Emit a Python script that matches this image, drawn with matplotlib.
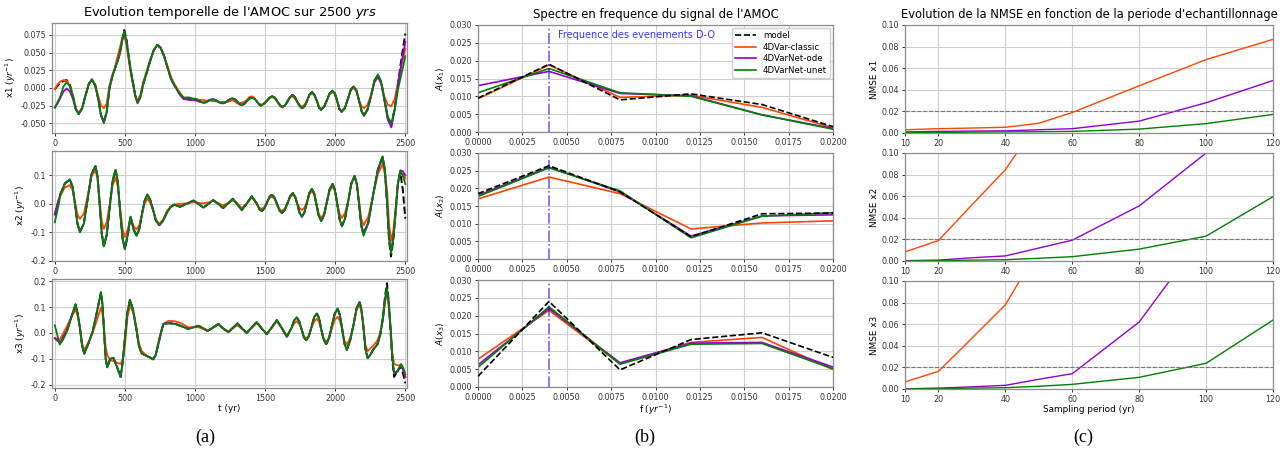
import matplotlib
matplotlib.use("Agg")
import matplotlib.pyplot as plt
from matplotlib.ticker import FormatStrFormatter

# ---------------- data: time series (panel a) ----------------
t1 = [0, 20, 40, 62, 85, 108, 130, 150, 170, 195,
      220, 243, 265, 288, 310, 330, 350, 370, 390, 410,
      430, 448, 465, 480, 495, 512, 530, 545, 560, 575,
      590, 610, 630, 655, 680, 705, 730, 755, 780, 805,
      830, 855, 880, 900, 920, 960, 1010, 1035, 1060, 1075,
      1090, 1108, 1125, 1142, 1160, 1178, 1195, 1212, 1230, 1248,
      1265, 1282, 1300, 1315, 1330, 1350, 1370, 1388, 1405, 1422,
      1440, 1455, 1470, 1490, 1510, 1530, 1550, 1570, 1590, 1608,
      1625, 1642, 1660, 1678, 1695, 1712, 1730, 1748, 1765, 1782,
      1800, 1818, 1835, 1852, 1870, 1885, 1900, 1920, 1940, 1960,
      1980, 1998, 2015, 2030, 2045, 2068, 2090, 2110, 2130, 2150,
      2170, 2188, 2205, 2230, 2255, 2280, 2305, 2328, 2350, 2375,
      2400, 2425, 2450, 2475, 2500]
x1_model = [-0.002, 0.003, 0.007, 0.010, 0.011, 0.004, -0.012, -0.030, -0.037, -0.029,
            -0.010, 0.006, 0.012, 0.004, -0.016, -0.039, -0.048, -0.034, 0.000, 0.016,
            0.028, 0.038, 0.050, 0.068, 0.082, 0.068, 0.040, 0.021, 0.005, -0.012,
            -0.020, -0.013, 0.005, 0.021, 0.038, 0.053, 0.061, 0.057, 0.045, 0.028,
            0.012, 0.003, -0.005, -0.010, -0.014, -0.014, -0.016, -0.019, -0.021, -0.0205,
            -0.019, -0.017, -0.016, -0.017, -0.019, -0.021, -0.022, -0.021, -0.019, -0.016,
            -0.015, -0.016, -0.019, -0.023, -0.024, -0.023, -0.019, -0.015, -0.014, -0.015,
            -0.019, -0.023, -0.025, -0.023, -0.019, -0.014, -0.012, -0.014, -0.020, -0.025,
            -0.027, -0.025, -0.019, -0.013, -0.010, -0.013, -0.020, -0.026, -0.029, -0.026,
            -0.018, -0.009, -0.006, -0.010, -0.019, -0.028, -0.031, -0.027, -0.018, -0.008,
            -0.004, -0.008, -0.019, -0.030, -0.034, -0.029, -0.016, -0.003, 0.002, -0.003,
            -0.018, -0.033, -0.039, -0.031, -0.012, 0.010, 0.018, 0.008, -0.015, -0.043,
            -0.054, -0.028, 0.010, 0.045, 0.077]
x1_classic = [-0.002, 0.005, 0.009, 0.011, 0.010, 0.002, -0.012, -0.029, -0.036, -0.028,
              -0.010, 0.006, 0.012, 0.005, -0.012, -0.025, -0.029, -0.022, 0.003, 0.018,
              0.030, 0.045, 0.058, 0.070, 0.076, 0.060, 0.035, 0.017, 0.002, -0.012,
              -0.018, -0.010, 0.008, 0.024, 0.040, 0.053, 0.060, 0.056, 0.044, 0.030,
              0.015, 0.005, -0.003, -0.009, -0.014, -0.017, -0.017, -0.017, -0.017, -0.018,
              -0.018, -0.018, -0.019, -0.019, -0.019, -0.020, -0.020, -0.020, -0.020, -0.019,
              -0.017, -0.019, -0.022, -0.022, -0.021, -0.020, -0.017, -0.013, -0.012, -0.014,
              -0.019, -0.022, -0.024, -0.022, -0.019, -0.015, -0.013, -0.015, -0.021, -0.026,
              -0.028, -0.025, -0.019, -0.014, -0.012, -0.015, -0.021, -0.025, -0.026, -0.024,
              -0.017, -0.010, -0.008, -0.011, -0.019, -0.027, -0.030, -0.026, -0.018, -0.009,
              -0.006, -0.009, -0.020, -0.029, -0.033, -0.028, -0.016, -0.004, 0.000, -0.004,
              -0.018, -0.026, -0.029, -0.024, -0.010, 0.008, 0.015, 0.007, -0.012, -0.024,
              -0.026, -0.015, 0.010, 0.035, 0.055]
x1_ode = [-0.028, -0.022, -0.014, -0.005, -0.001, -0.005, -0.016, -0.031, -0.037, -0.029,
          -0.010, 0.005, 0.011, 0.003, -0.016, -0.040, -0.050, -0.035, 0.000, 0.016,
          0.028, 0.038, 0.050, 0.066, 0.077, 0.065, 0.040, 0.020, 0.004, -0.013,
          -0.022, -0.014, 0.005, 0.021, 0.038, 0.053, 0.061, 0.057, 0.045, 0.028,
          0.012, 0.003, -0.006, -0.012, -0.016, -0.017, -0.018, -0.020, -0.021, -0.0205,
          -0.019, -0.017, -0.016, -0.017, -0.019, -0.021, -0.022, -0.021, -0.019, -0.016,
          -0.015, -0.016, -0.019, -0.023, -0.024, -0.023, -0.019, -0.015, -0.014, -0.015,
          -0.019, -0.023, -0.025, -0.023, -0.019, -0.014, -0.012, -0.014, -0.020, -0.025,
          -0.027, -0.025, -0.019, -0.013, -0.010, -0.013, -0.020, -0.026, -0.029, -0.026,
          -0.018, -0.009, -0.006, -0.010, -0.019, -0.028, -0.031, -0.027, -0.018, -0.008,
          -0.004, -0.008, -0.019, -0.030, -0.034, -0.029, -0.016, -0.003, 0.002, -0.003,
          -0.018, -0.033, -0.040, -0.031, -0.012, 0.009, 0.016, 0.006, -0.017, -0.045,
          -0.056, -0.030, 0.008, 0.038, 0.065]
x1_unet = [-0.028, -0.020, -0.012, 0.002, 0.008, 0.002, -0.012, -0.030, -0.037, -0.029,
           -0.010, 0.006, 0.012, 0.004, -0.016, -0.039, -0.048, -0.034, 0.000, 0.016,
           0.028, 0.038, 0.050, 0.067, 0.080, 0.067, 0.040, 0.021, 0.005, -0.012,
           -0.020, -0.013, 0.005, 0.021, 0.038, 0.053, 0.061, 0.057, 0.045, 0.028,
           0.012, 0.003, -0.005, -0.010, -0.014, -0.014, -0.016, -0.019, -0.021, -0.0205,
           -0.019, -0.017, -0.016, -0.017, -0.019, -0.021, -0.022, -0.021, -0.019, -0.016,
           -0.015, -0.016, -0.019, -0.023, -0.024, -0.023, -0.019, -0.015, -0.014, -0.015,
           -0.019, -0.023, -0.025, -0.023, -0.019, -0.014, -0.012, -0.014, -0.020, -0.025,
           -0.027, -0.025, -0.019, -0.013, -0.010, -0.013, -0.020, -0.026, -0.029, -0.026,
           -0.018, -0.009, -0.006, -0.010, -0.019, -0.028, -0.031, -0.027, -0.018, -0.008,
           -0.004, -0.008, -0.019, -0.030, -0.034, -0.029, -0.016, -0.003, 0.002, -0.003,
           -0.018, -0.033, -0.039, -0.031, -0.012, 0.011, 0.019, 0.009, -0.015, -0.041,
           -0.050, -0.030, 0.000, 0.022, 0.045]

t2 = [0, 20, 40, 72, 107, 127, 145, 162, 179, 207,
      235, 262, 290, 305, 320, 335, 350, 370, 390, 412,
      433, 449, 465, 483, 500, 520, 540, 562, 583, 602,
      620, 640, 660, 680, 700, 722, 745, 772, 800, 825,
      850, 893, 940, 990, 1025, 1060, 1095, 1130, 1165, 1200,
      1235, 1270, 1300, 1333, 1370, 1405, 1440, 1458, 1476, 1494,
      1512, 1530, 1548, 1566, 1584, 1602, 1619, 1640, 1660, 1679,
      1698, 1714, 1730, 1746, 1762, 1780, 1798, 1816, 1833, 1850,
      1866, 1883, 1900, 1920, 1940, 1960, 1981, 1998, 2015, 2032,
      2048, 2070, 2093, 2115, 2138, 2154, 2170, 2186, 2202, 2236,
      2270, 2304, 2338, 2354, 2370, 2384, 2398, 2414, 2430, 2447,
      2464, 2482, 2500]
x2_model = [-0.040, 0.000, 0.035, 0.072, 0.085, 0.060, -0.005, -0.070, -0.098, -0.070,
            0.020, 0.105, 0.133, 0.095, 0.000, -0.105, -0.148, -0.110, -0.020, 0.080,
            0.120, 0.080, -0.020, -0.120, -0.158, -0.110, -0.045, -0.090, -0.112, -0.090,
            -0.040, 0.010, 0.033, 0.015, -0.020, -0.060, -0.075, -0.060, -0.030, -0.012,
            -0.003, -0.010, 0.000, 0.012, 0.000, -0.013, 0.000, 0.013, 0.000, -0.015,
            0.001, 0.018, 0.000, -0.022, 0.002, 0.027, 0.001, -0.018, -0.025, -0.017,
            0.003, 0.024, 0.032, 0.023, 0.000, -0.023, -0.032, -0.022, 0.003, 0.028,
            0.038, 0.026, -0.002, -0.032, -0.045, -0.031, 0.004, 0.039, 0.053, 0.037,
            -0.002, -0.043, -0.060, -0.041, 0.005, 0.051, 0.070, 0.049, -0.002, -0.056,
            -0.078, -0.052, 0.010, 0.072, 0.098, 0.070, 0.000, -0.075, -0.105, -0.065,
            0.030, 0.120, 0.165, 0.120, 0.000, -0.130, -0.185, -0.130, -0.035, 0.070,
            0.112, 0.050, -0.052]
x2_classic = [-0.035, 0.000, 0.030, 0.058, 0.066, 0.048, 0.005, -0.038, -0.053, -0.035,
              0.030, 0.098, 0.119, 0.088, 0.010, -0.062, -0.088, -0.065, -0.005, 0.065,
              0.092, 0.060, -0.010, -0.088, -0.117, -0.090, -0.050, -0.078, -0.090, -0.075,
              -0.040, 0.000, 0.018, 0.005, -0.020, -0.055, -0.070, -0.055, -0.025, -0.010,
              -0.002, 0.000, 0.002, 0.006, 0.003, 0.002, 0.005, 0.012, 0.003, -0.005,
              0.003, 0.012, 0.003, -0.015, 0.003, 0.022, 0.002, -0.013, -0.018, -0.012,
              0.003, 0.019, 0.025, 0.018, 0.002, -0.018, -0.025, -0.017, 0.003, 0.024,
              0.032, 0.022, 0.002, -0.015, -0.022, -0.014, 0.005, 0.034, 0.045, 0.032,
              0.002, -0.036, -0.050, -0.034, 0.005, 0.045, 0.062, 0.044, 0.000, -0.036,
              -0.050, -0.032, 0.010, 0.070, 0.095, 0.070, 0.010, -0.052, -0.075, -0.045,
              0.030, 0.105, 0.140, 0.105, 0.050, -0.070, -0.130, -0.095, -0.020, 0.070,
              0.110, 0.105, 0.090]
x2_ode = [-0.038, 0.000, 0.035, 0.072, 0.086, 0.060, -0.005, -0.070, -0.098, -0.070,
          0.020, 0.105, 0.133, 0.095, 0.000, -0.105, -0.148, -0.110, -0.020, 0.080,
          0.120, 0.080, -0.020, -0.120, -0.158, -0.110, -0.045, -0.090, -0.112, -0.090,
          -0.040, 0.010, 0.033, 0.015, -0.020, -0.060, -0.075, -0.060, -0.030, -0.012,
          -0.003, -0.010, 0.000, 0.012, 0.000, -0.013, 0.000, 0.013, 0.000, -0.015,
          0.001, 0.018, 0.000, -0.022, 0.002, 0.027, 0.001, -0.018, -0.025, -0.017,
          0.003, 0.024, 0.032, 0.023, 0.000, -0.023, -0.032, -0.022, 0.003, 0.028,
          0.038, 0.026, -0.002, -0.032, -0.045, -0.031, 0.004, 0.039, 0.053, 0.037,
          -0.002, -0.043, -0.060, -0.041, 0.005, 0.051, 0.070, 0.049, -0.002, -0.056,
          -0.078, -0.052, 0.010, 0.072, 0.098, 0.070, 0.000, -0.075, -0.105, -0.065,
          0.030, 0.118, 0.162, 0.118, 0.003, -0.120, -0.170, -0.120, -0.030, 0.072,
          0.118, 0.115, 0.100]
x2_unet = [-0.065, -0.020, 0.030, 0.072, 0.086, 0.060, -0.005, -0.072, -0.100, -0.070,
           0.020, 0.105, 0.133, 0.095, 0.000, -0.107, -0.150, -0.110, -0.020, 0.080,
           0.120, 0.080, -0.020, -0.122, -0.160, -0.110, -0.045, -0.090, -0.112, -0.090,
           -0.040, 0.010, 0.033, 0.015, -0.020, -0.060, -0.075, -0.060, -0.030, -0.012,
           -0.003, -0.010, 0.000, 0.012, 0.000, -0.013, 0.000, 0.013, 0.000, -0.015,
           0.001, 0.018, 0.000, -0.022, 0.002, 0.027, 0.001, -0.018, -0.025, -0.017,
           0.003, 0.024, 0.032, 0.023, 0.000, -0.023, -0.032, -0.022, 0.003, 0.028,
           0.038, 0.026, -0.002, -0.032, -0.045, -0.031, 0.004, 0.039, 0.053, 0.037,
           -0.002, -0.043, -0.060, -0.041, 0.005, 0.051, 0.070, 0.049, -0.002, -0.056,
           -0.078, -0.052, 0.010, 0.072, 0.098, 0.070, 0.000, -0.080, -0.112, -0.068,
           0.030, 0.122, 0.167, 0.122, 0.005, -0.120, -0.175, -0.120, -0.030, 0.072,
           0.115, 0.100, 0.070]

t3 = [0, 35, 60, 90, 120, 148, 165, 180, 195, 210,
      240, 270, 300, 329, 340, 352, 363, 374, 395, 417,
      443, 469, 485, 500, 518, 536, 558, 580, 600, 620,
      660, 702, 720, 740, 757, 774, 810, 860, 900, 950,
      990, 1025, 1060, 1090, 1130, 1167, 1200, 1238, 1270, 1302,
      1335, 1369, 1405, 1440, 1475, 1512, 1548, 1583, 1620, 1655,
      1690, 1708, 1726, 1743, 1760, 1776, 1793, 1811, 1830, 1850,
      1869, 1885, 1900, 1918, 1936, 1955, 1975, 1996, 2017, 2033,
      2050, 2066, 2083, 2106, 2130, 2152, 2174, 2187, 2200, 2215,
      2231, 2250, 2270, 2285, 2300, 2320, 2340, 2355, 2369, 2382,
      2395, 2408, 2420, 2445, 2470, 2485, 2500]
x3_model = [-0.020, -0.035, -0.015, 0.015, 0.065, 0.110, 0.070, 0.015, -0.050, -0.080,
            -0.040, 0.005, 0.080, 0.157, 0.110, 0.000, -0.100, -0.133, -0.100, -0.096,
            -0.130, -0.170, -0.110, -0.020, 0.080, 0.128, 0.090, 0.020, -0.050, -0.080,
            -0.090, -0.102, -0.085, -0.040, 0.000, 0.035, 0.038, 0.035, 0.027, 0.016,
            0.022, 0.028, 0.018, 0.008, 0.022, 0.035, 0.018, 0.003, 0.020, 0.037,
            0.018, 0.000, 0.022, 0.042, 0.018, -0.005, 0.022, 0.050, 0.018, -0.015,
            0.022, 0.049, 0.060, 0.045, 0.015, -0.016, -0.028, -0.014, 0.022, 0.061,
            0.075, 0.057, 0.015, -0.026, -0.043, -0.022, 0.025, 0.074, 0.094, 0.070,
            0.015, -0.042, -0.065, -0.030, 0.030, 0.095, 0.120, 0.090, 0.030, -0.060,
            -0.097, -0.085, -0.065, -0.055, -0.045, -0.010, 0.060, 0.140, 0.193, 0.120,
            0.000, -0.110, -0.170, -0.145, -0.130, -0.160, -0.195]
x3_classic = [-0.020, -0.025, -0.002, 0.030, 0.065, 0.090, 0.062, 0.020, -0.040, -0.067,
              -0.035, 0.000, 0.050, 0.099, 0.075, 0.010, -0.055, -0.085, -0.105, -0.108,
              -0.115, -0.120, -0.100, -0.050, 0.060, 0.107, 0.080, 0.030, -0.040, -0.070,
              -0.090, -0.100, -0.085, -0.030, 0.005, 0.035, 0.047, 0.045, 0.038, 0.022,
              0.022, 0.022, 0.015, 0.010, 0.020, 0.033, 0.018, 0.005, 0.018, 0.030,
              0.015, 0.002, 0.020, 0.038, 0.018, -0.003, 0.020, 0.045, 0.018, -0.010,
              0.020, 0.038, 0.045, 0.035, 0.015, -0.012, -0.022, -0.010, 0.018, 0.045,
              0.055, 0.042, 0.015, -0.022, -0.035, -0.018, 0.015, 0.050, 0.063, 0.048,
              0.010, -0.030, -0.045, -0.020, 0.030, 0.088, 0.110, 0.082, 0.030, -0.045,
              -0.070, -0.060, -0.050, -0.040, -0.030, 0.000, 0.050, 0.120, 0.155, 0.100,
              0.020, -0.080, -0.120, -0.125, -0.125, -0.140, -0.170]
x3_ode = [-0.020, -0.038, -0.018, 0.015, 0.065, 0.110, 0.070, 0.015, -0.050, -0.080,
          -0.040, 0.005, 0.080, 0.157, 0.110, 0.000, -0.100, -0.133, -0.100, -0.096,
          -0.130, -0.170, -0.110, -0.020, 0.080, 0.128, 0.090, 0.020, -0.050, -0.080,
          -0.090, -0.102, -0.085, -0.040, 0.000, 0.035, 0.038, 0.035, 0.027, 0.016,
          0.022, 0.028, 0.018, 0.008, 0.022, 0.035, 0.018, 0.003, 0.020, 0.037,
          0.018, 0.000, 0.022, 0.042, 0.018, -0.005, 0.022, 0.050, 0.018, -0.015,
          0.022, 0.049, 0.060, 0.045, 0.015, -0.016, -0.028, -0.014, 0.022, 0.061,
          0.075, 0.057, 0.015, -0.026, -0.043, -0.022, 0.025, 0.074, 0.094, 0.070,
          0.015, -0.042, -0.065, -0.030, 0.030, 0.095, 0.120, 0.090, 0.030, -0.060,
          -0.097, -0.085, -0.065, -0.055, -0.045, -0.010, 0.055, 0.125, 0.170, 0.115,
          0.015, -0.100, -0.155, -0.150, -0.125, -0.145, -0.170]
x3_unet = [0.030, -0.045, -0.025, 0.010, 0.065, 0.112, 0.070, 0.015, -0.050, -0.080,
           -0.040, 0.005, 0.080, 0.157, 0.110, 0.000, -0.100, -0.133, -0.100, -0.096,
           -0.130, -0.170, -0.110, -0.020, 0.080, 0.128, 0.090, 0.020, -0.050, -0.080,
           -0.090, -0.102, -0.085, -0.040, 0.000, 0.035, 0.038, 0.035, 0.027, 0.016,
           0.022, 0.028, 0.018, 0.008, 0.022, 0.035, 0.018, 0.003, 0.020, 0.037,
           0.018, 0.000, 0.022, 0.042, 0.018, -0.005, 0.022, 0.050, 0.018, -0.015,
           0.022, 0.049, 0.060, 0.045, 0.015, -0.016, -0.028, -0.014, 0.022, 0.061,
           0.075, 0.057, 0.015, -0.026, -0.043, -0.022, 0.025, 0.074, 0.094, 0.070,
           0.015, -0.042, -0.065, -0.030, 0.030, 0.095, 0.120, 0.090, 0.030, -0.060,
           -0.097, -0.085, -0.065, -0.055, -0.045, -0.010, 0.055, 0.130, 0.175, 0.120,
           0.020, -0.100, -0.155, -0.145, -0.120, -0.135, -0.160]

# ---------------- data: spectra (panel b) ----------------
freqs = [0.0, 0.004, 0.008, 0.012, 0.016, 0.020]
A1_model = [0.0095, 0.0190, 0.0090, 0.0107, 0.0077, 0.0015]
A1_classic = [0.0093, 0.0188, 0.0097, 0.0103, 0.0069, 0.0012]
A1_ode = [0.0130, 0.0170, 0.0108, 0.0102, 0.0048, 0.0010]
A1_unet = [0.0110, 0.0178, 0.0110, 0.0100, 0.0048, 0.0008]
A2_model = [0.0185, 0.0264, 0.0190, 0.0063, 0.0128, 0.0130]
A2_classic = [0.0170, 0.0232, 0.0185, 0.0085, 0.0102, 0.0108]
A2_ode = [0.0180, 0.0260, 0.0190, 0.0065, 0.0122, 0.0125]
A2_unet = [0.0177, 0.0258, 0.0193, 0.0060, 0.0121, 0.0131]
A3_model = [0.0030, 0.0240, 0.0048, 0.0133, 0.0152, 0.0083]
A3_classic = [0.0078, 0.0215, 0.0065, 0.0125, 0.0139, 0.0049]
A3_ode = [0.0062, 0.0220, 0.0068, 0.0123, 0.0125, 0.0056]
A3_unet = [0.0055, 0.0225, 0.0064, 0.0120, 0.0122, 0.0051]
do_freq = 0.004

# ---------------- data: NMSE (panel c) ----------------
periods = [10, 20, 30, 40, 50, 60, 80, 100, 120]
N1_classic = [0.0030, 0.0040, 0.0046, 0.0053, 0.0090, 0.0190, 0.0437, 0.0680, 0.0867]
N1_ode = [0.0010, 0.0015, 0.0018, 0.0020, 0.0030, 0.0040, 0.0110, 0.0280, 0.0486]
N1_unet = [0.0003, 0.0005, 0.0008, 0.0010, 0.0012, 0.0015, 0.0036, 0.0087, 0.0172]
N2_classic = [0.0084, 0.0190, 0.0520, 0.0845, 0.1300, 0.1800, 0.3000, 0.4000, 0.5000]
N2_ode = [0.0003, 0.0008, 0.0030, 0.0047, 0.0120, 0.0193, 0.0510, 0.1000, 0.1600]
N2_unet = [0.0002, 0.0004, 0.0008, 0.0012, 0.0025, 0.0040, 0.0110, 0.0230, 0.0596]
N3_classic = [0.0065, 0.0164, 0.0470, 0.0780, 0.1300, 0.1800, 0.3000, 0.4000, 0.5000]
N3_ode = [0.0002, 0.0008, 0.0020, 0.0034, 0.0090, 0.0142, 0.0620, 0.1460, 0.2500]
N3_unet = [0.0002, 0.0004, 0.0008, 0.0012, 0.0025, 0.0043, 0.0108, 0.0238, 0.0638]
nmse_threshold = 0.02

labels = ['model', '4DVar-classic', '4DVarNet-ode', '4DVarNet-unet']
c_classic, c_ode, c_unet = '#ff4500', '#9400d3', '#008000'

# ---------------- figure ----------------
W, H = 1288, 457
plt.rcParams['font.family'] = ['DejaVu Sans']
fig = plt.figure(figsize=(W / 100, H / 100), dpi=100)

tick_fs = 5.8
lab_fs = 6.4


def box(x0, x1, y0, y1):
    return [x0 / W, 1 - y1 / H, (x1 - x0) / W, (y1 - y0) / H]


def style(ax):
    ax.grid(True, color='#cfcfcf', lw=0.8)
    ax.set_axisbelow(True)
    for s in ax.spines.values():
        s.set_color('#8c8c8c')
        s.set_linewidth(0.9)
    ax.tick_params(labelsize=tick_fs, colors='#333333', length=2.5, width=0.7, pad=1.5)


# panel a
left_boxes = [(52, 407, 23, 133), (52, 407, 151, 261), (52, 407, 279, 388)]
tseries = [(t1, x1_model, x1_classic, x1_ode, x1_unet),
           (t2, x2_model, x2_classic, x2_ode, x2_unet),
           (t3, x3_model, x3_classic, x3_ode, x3_unet)]
ylims_a = [(-0.064, 0.092), (-0.201, 0.186), (-0.213, 0.209)]
yticks_a = [[-0.05, -0.025, 0.0, 0.025, 0.05, 0.075], [-0.2, -0.1, 0.0, 0.1], [-0.2, -0.1, 0.0, 0.1, 0.2]]
yfmt_a = ['%.3f', '%.1f', '%.1f']
for i, (b, data) in enumerate(zip(left_boxes, tseries)):
    ax = fig.add_axes(box(*b))
    style(ax)
    t, m, c, o, u = data
    ax.plot(t, m, color='black', ls='--', lw=1.4, zorder=2)
    ax.plot(t, c, color=c_classic, lw=1.3, zorder=3)
    ax.plot(t, o, color=c_ode, lw=1.3, zorder=4)
    ax.plot(t, u, color=c_unet, lw=1.3, zorder=5)
    ax.set_xlim(-20, 2512)
    ax.set_ylim(*ylims_a[i])
    ax.set_xticks([0, 500, 1000, 1500, 2000, 2500])
    ax.set_yticks(yticks_a[i])
    ax.yaxis.set_major_formatter(FormatStrFormatter(yfmt_a[i]))
    ax.set_ylabel('x%d ($yr^{-1}$)' % (i + 1), fontsize=lab_fs, labelpad=2)
    if i == 0:
        ax.set_title("Evolution temporelle de l'AMOC sur 2500 $yrs$", fontsize=9.4, pad=5)
    if i == 2:
        ax.set_xlabel('t (yr)', fontsize=lab_fs, labelpad=1)

# panel b
mid_boxes = [(478, 833, 25, 132), (478, 833, 153, 259), (478, 833, 280, 387)]
spectra = [(A1_model, A1_classic, A1_ode, A1_unet),
           (A2_model, A2_classic, A2_ode, A2_unet),
           (A3_model, A3_classic, A3_ode, A3_unet)]
for i, (b, data) in enumerate(zip(mid_boxes, spectra)):
    ax = fig.add_axes(box(*b))
    style(ax)
    m, c, o, u = data
    ax.plot(freqs, m, color='black', ls='--', lw=1.2, label=labels[0], zorder=3)
    ax.plot(freqs, c, color=c_classic, lw=1.2, label=labels[1])
    ax.plot(freqs, o, color=c_ode, lw=1.2, label=labels[2])
    ax.plot(freqs, u, color=c_unet, lw=1.2, label=labels[3])
    ax.axvline(do_freq, color='blue', ls='-.', lw=1.2, alpha=0.6)
    ax.set_xlim(0, 0.02)
    ax.set_ylim(0, 0.03)
    ax.set_xticks([0, 0.0025, 0.005, 0.0075, 0.01, 0.0125, 0.015, 0.0175, 0.02])
    ax.set_yticks([0, 0.005, 0.01, 0.015, 0.02, 0.025, 0.03])
    ax.xaxis.set_major_formatter(FormatStrFormatter('%.4f'))
    ax.yaxis.set_major_formatter(FormatStrFormatter('%.3f'))
    ax.set_ylabel('$A(x_%d)$' % (i + 1), fontsize=lab_fs, labelpad=2)
    if i == 0:
        ax.set_title("Spectre en frequence du signal de l'AMOC", fontsize=8.4, pad=5)
        ax.text(0.0045, 0.0272, 'Frequence des evenements D-O', color='#3838ff',
                fontsize=7, va='center', ha='left')
        ax.legend(loc='upper right', fontsize=6.2, handlelength=2.4, borderpad=0.4,
                  labelspacing=0.3, borderaxespad=0.3, framealpha=0.9, edgecolor='#cccccc')
    if i == 2:
        ax.set_xlabel('f ($yr^{-1}$)', fontsize=lab_fs, labelpad=1)

# panel c
right_boxes = [(905, 1273, 25, 133), (905, 1273, 153, 261), (905, 1273, 281, 389)]
nmse = [(N1_classic, N1_ode, N1_unet), (N2_classic, N2_ode, N2_unet), (N3_classic, N3_ode, N3_unet)]
for i, (b, data) in enumerate(zip(right_boxes, nmse)):
    ax = fig.add_axes(box(*b))
    style(ax)
    c, o, u = data
    ax.plot(periods, c, color=c_classic, lw=1.0)
    ax.plot(periods, o, color=c_ode, lw=1.0)
    ax.plot(periods, u, color=c_unet, lw=1.0)
    ax.axhline(nmse_threshold, color='#777777', ls='--', lw=0.8)
    ax.set_xlim(10, 120)
    ax.set_ylim(0, 0.1)
    ax.set_xticks([10, 20, 40, 60, 80, 100, 120])
    ax.set_yticks([0, 0.02, 0.04, 0.06, 0.08, 0.1])
    ax.yaxis.set_major_formatter(FormatStrFormatter('%.2f'))
    ax.set_ylabel('NMSE x%d' % (i + 1), fontsize=lab_fs, labelpad=2)
    if i == 0:
        ax.set_title("Evolution de la NMSE en fonction de la periode d'echantillonnage",
                     fontsize=8.3, pad=5)
    if i == 2:
        ax.set_xlabel('Sampling period (yr)', fontsize=lab_fs, labelpad=1)

# captions
for x, s in [(205, '(a)'), (645, '(b)'), (1083, '(c)')]:
    fig.text(x / W, 1 - 437 / H, s, ha='center', va='center', fontsize=13,
             family=['Liberation Serif', 'DejaVu Serif'])

fig.savefig('out.png', dpi=100)
